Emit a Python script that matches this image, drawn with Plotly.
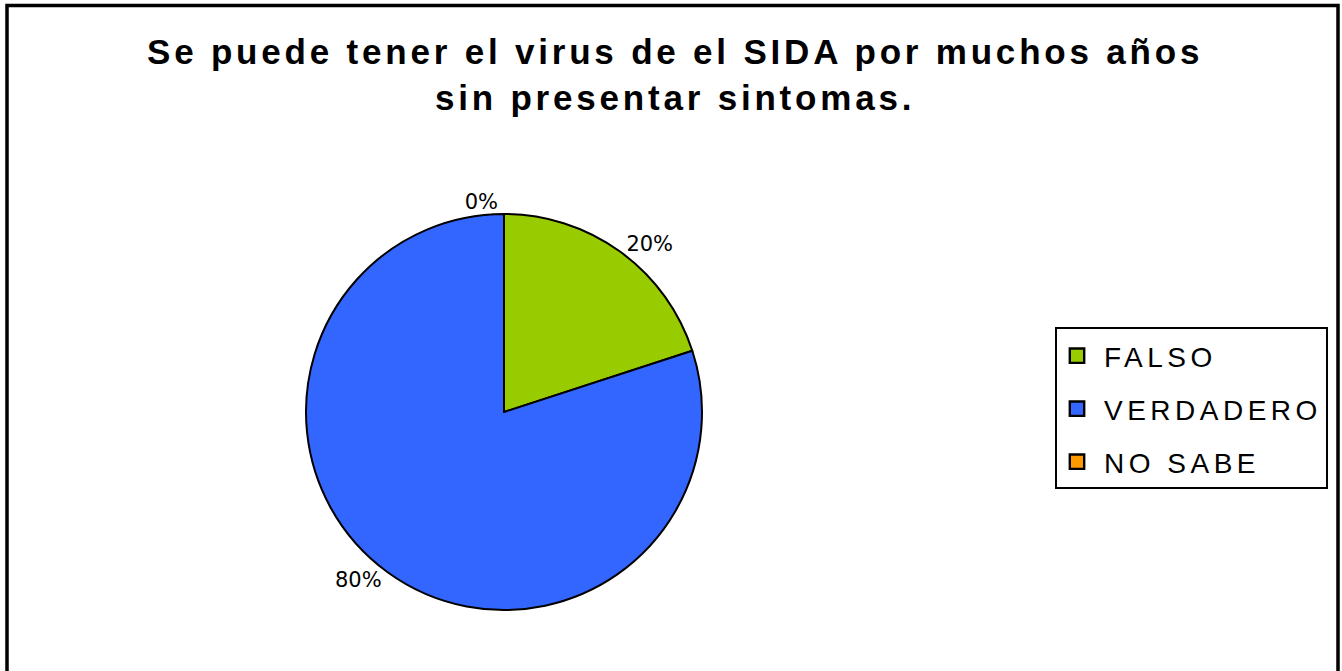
import plotly.graph_objects as go

categories = ["FALSO", "VERDADERO", "NO SABE"]
values = [20, 80, 0]
colors = ["#99CC00", "#3366FF", "#FF9900"]
title_lines = ["Se puede tener el virus de el SIDA por muchos años", "sin presentar sintomas."]

W, H = 1342, 671
cx, cy, r = 504, 412, 198

fig = go.Figure()
fig.add_trace(go.Pie(
    labels=categories,
    values=values,
    marker=dict(colors=colors, line=dict(color="black", width=2)),
    sort=False,
    direction="clockwise",
    rotation=0,
    textinfo="percent",
    textposition="outside",
    texttemplate="%{percent:.0%}",
    outsidetextfont=dict(family="DejaVu Sans", size=21, color="black"),
    showlegend=True,
    domain=dict(x=[(cx - r) / W, (cx + r) / W], y=[(H - cy - r) / H, (H - cy + r) / H]),
    hoverinfo="label+percent",
))

# Title as annotation
fig.add_annotation(
    x=675 / W, y=1 - 74 / H, xref="paper", yref="paper",
    xanchor="center", yanchor="middle",
    text="<b>" + "<br>".join(title_lines) + "</b>", showarrow=False,
    font=dict(family="Liberation Sans, Arial", size=35, color="black"),
)

# Outer chart border
fig.add_shape(type="rect", xref="paper", yref="paper",
              x0=7 / W, x1=1338 / W, y0=-0.1, y1=1 - 5.5 / H,
              line=dict(color="black", width=3.5), fillcolor="rgba(0,0,0,0)", layer="below")

fig.update_layout(
    width=W, height=H,
    margin=dict(l=0, r=0, t=0, b=0),
    paper_bgcolor="white",
    plot_bgcolor="white",
    legend=dict(x=1055 / W, y=1 - 327 / H, xanchor="left", yanchor="top",
                bordercolor="black", borderwidth=2, bgcolor="white",
                font=dict(family="Liberation Sans, Arial", size=28, color="black"),
                itemsizing="constant"),
)

post = """
document.body.style.margin = '0';
var gd = document.querySelector('.plotly-graph-div');
gd.querySelectorAll('.annotation-text').forEach(function(t){
  if (t.textContent.indexOf('Se puede') === 0) { t.style.letterSpacing = '3.8px'; }
});
var leg = gd.querySelector('.legend');
if (leg) {
  leg.querySelectorAll('.legendtext').forEach(function(t){
    t.style.letterSpacing = '4.5px';
    var x = parseFloat(t.getAttribute('x')) || 0;
    t.setAttribute('x', x + 7);
  });
  leg.querySelectorAll('.legendpoints path').forEach(function(p){
    var tr = p.getAttribute('transform') || '';
    p.setAttribute('transform', tr + ' scale(1.2)');
  });
  var sb = leg.querySelector('.scrollbox');
  if (sb) sb.removeAttribute('clip-path');
  var items = leg.querySelectorAll('.traces');
  var ys = [];
  items.forEach(function(t){
    var m = /translate\\(([-\\d.]+)[ ,]+([-\\d.]+)\\)/.exec(t.getAttribute('transform'));
    ys.push(m ? [parseFloat(m[1]), parseFloat(m[2])] : [0, 0]);
  });
  var gap = 53;
  var d = ys.length > 1 ? ys[1][1] - ys[0][1] : gap;
  items.forEach(function(t, i){
    t.setAttribute('transform', 'translate(' + ys[i][0] + ',' + (ys[0][1] + 2 + i * gap) + ')');
  });
  var bg = leg.querySelector('.bg');
  if (bg) {
    var h = parseFloat(bg.getAttribute('height'));
    bg.setAttribute('height', h + (gap - d) * (items.length - 1) + 2);
    bg.setAttribute('width', 271);
  }
}
"""

fig.write_html("out.html", post_script=post, config={"displayModeBar": False})
